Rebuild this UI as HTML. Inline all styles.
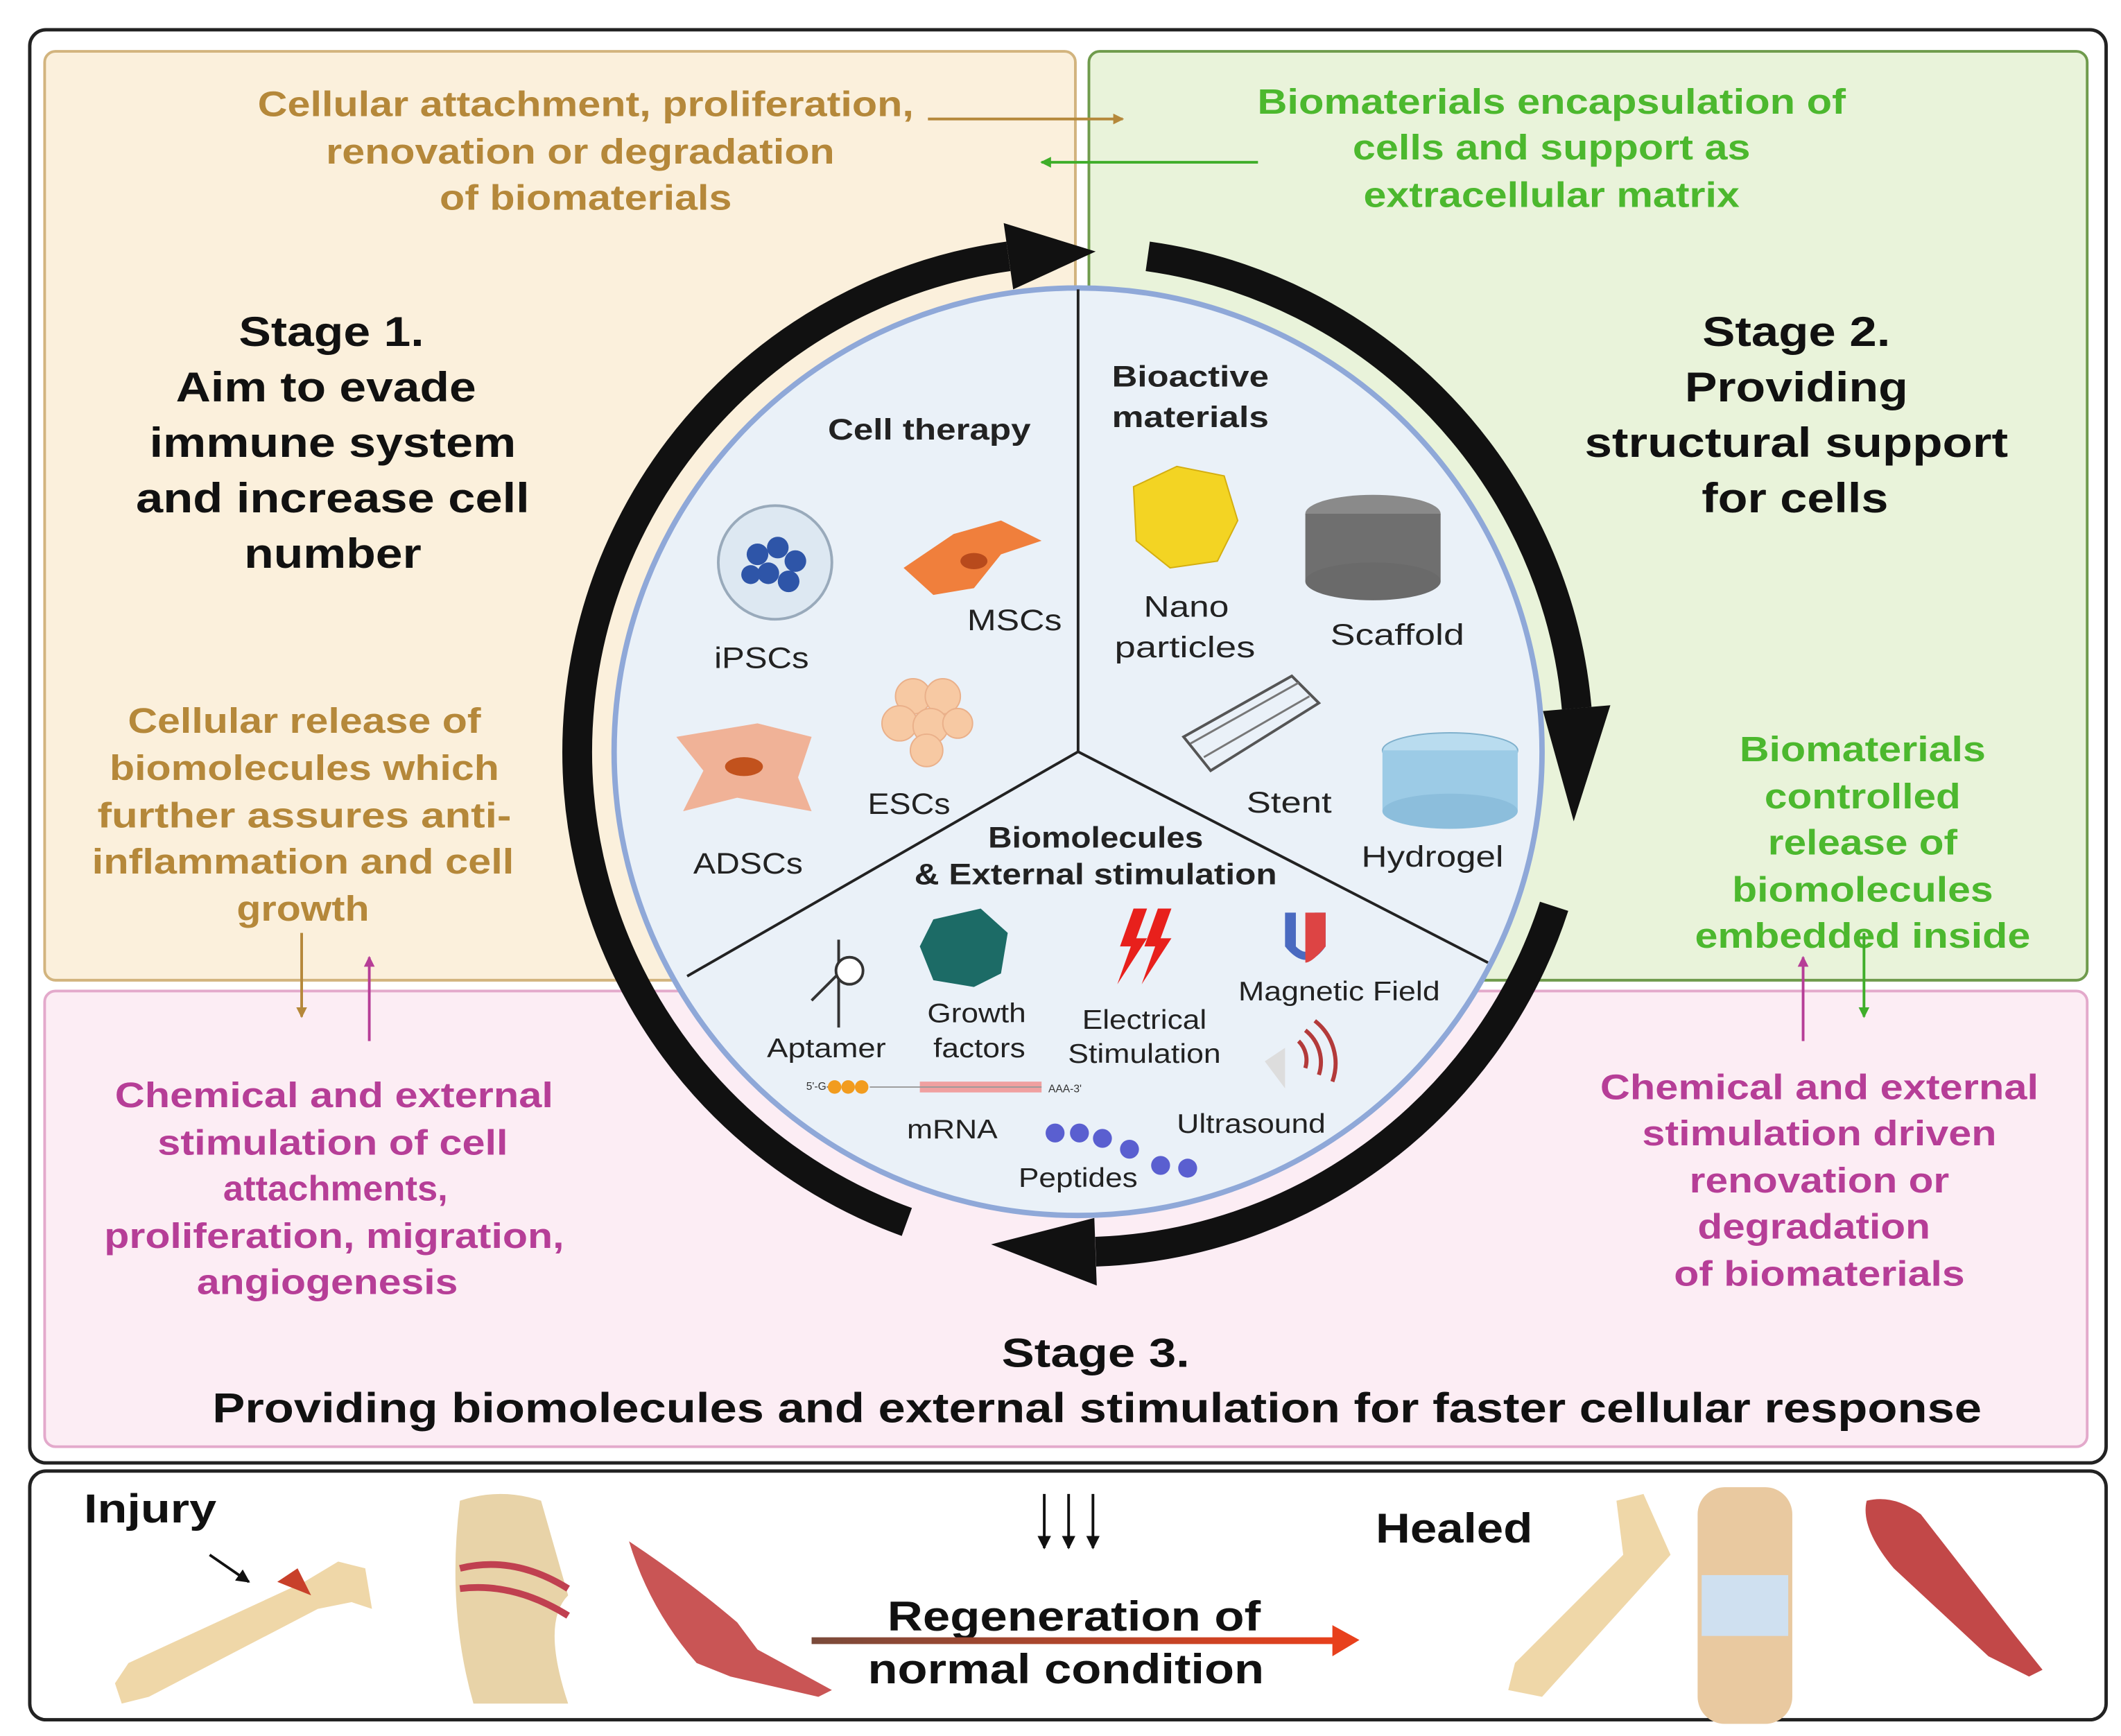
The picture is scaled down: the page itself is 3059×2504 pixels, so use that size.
<!DOCTYPE html>
<html><head><meta charset="utf-8"><style>
html,body{margin:0;padding:0;background:#fff;}
svg{display:block;}
text{font-family:"Liberation Sans",sans-serif;}
</style></head><body>
<svg width="3059" height="2504" viewBox="0 0 1568 1284" preserveAspectRatio="none" xmlns="http://www.w3.org/2000/svg">
<defs>
<marker id="ab" markerWidth="8" markerHeight="8" refX="7" refY="4" orient="auto" markerUnits="userSpaceOnUse"><path d="M0,0 L8,4 L0,8z" fill="#b5883a"/></marker>
<marker id="ag" markerWidth="8" markerHeight="8" refX="7" refY="4" orient="auto" markerUnits="userSpaceOnUse"><path d="M0,0 L8,4 L0,8z" fill="#3fae2a"/></marker>
<marker id="ap" markerWidth="8" markerHeight="8" refX="7" refY="4" orient="auto" markerUnits="userSpaceOnUse"><path d="M0,0 L8,4 L0,8z" fill="#b63e97"/></marker>
<marker id="ak" markerWidth="10" markerHeight="10" refX="9" refY="5" orient="auto" markerUnits="userSpaceOnUse"><path d="M0,0 L10,5 L0,10z" fill="#111"/></marker>
<linearGradient id="rg" x1="0" x2="1"><stop offset="0" stop-color="#7a4a3a"/><stop offset="1" stop-color="#e8401c"/></linearGradient>
</defs>
<rect x="0" y="0" width="1568" height="1284" fill="#fff"/>
<rect x="22" y="22" width="1535" height="1060" rx="12" fill="#fff" stroke="#222" stroke-width="2.5"/>
<rect x="33" y="38" width="762" height="687" rx="8" fill="#fbf0dc" stroke="#d2b47e" stroke-width="2"/>
<rect x="805" y="38" width="738" height="687" rx="8" fill="#e9f3da" stroke="#6f9b4c" stroke-width="2"/>
<rect x="33" y="733" width="1510" height="337" rx="8" fill="#fcedf4" stroke="#e3a9cb" stroke-width="2"/>
<rect x="22" y="1088" width="1535" height="184" rx="12" fill="#fff" stroke="#222" stroke-width="2.5"/>

<circle cx="797" cy="556" r="343" fill="#eaf1f8" stroke="#8fa8d8" stroke-width="4"/>
<line x1="797" y1="556" x2="797" y2="214" stroke="#222" stroke-width="2"/>
<line x1="797" y1="556" x2="508" y2="722" stroke="#222" stroke-width="2"/>
<line x1="797" y1="556" x2="1100" y2="712" stroke="#222" stroke-width="2"/>

<path d="M670.4,903.8 A370,370 0 0 1 745.5,189.6" fill="none" stroke="#111" stroke-width="22"/>
<path d="M749,214 L742,165 L810,186z" fill="#111"/>
<path d="M848.5,189.6 A370,370 0 0 1 1165.6,523.8" fill="none" stroke="#111" stroke-width="22"/>
<path d="M1140.7,525.9 L1190.5,521.6 L1163.4,607.5z" fill="#111"/>
<path d="M1148.9,670.3 A370,370 0 0 1 810,925.8" fill="none" stroke="#111" stroke-width="22"/>
<path d="M809,900.8 L810.8,950.8 L732.7,920.4z" fill="#111"/>

<g font-weight="bold" fill="#b5883a" font-size="26" text-anchor="middle">
<text x="433" y="86" textLength="485" lengthAdjust="spacingAndGlyphs">Cellular attachment, proliferation,</text>
<text x="429" y="121" textLength="376" lengthAdjust="spacingAndGlyphs">renovation or degradation</text>
<text x="433" y="155" textLength="216" lengthAdjust="spacingAndGlyphs">of biomaterials</text>
<text x="225" y="542" textLength="261" lengthAdjust="spacingAndGlyphs">Cellular release of</text>
<text x="225" y="577" textLength="288" lengthAdjust="spacingAndGlyphs">biomolecules which</text>
<text x="225" y="612" textLength="306" lengthAdjust="spacingAndGlyphs">further assures anti-</text>
<text x="224" y="646" textLength="312" lengthAdjust="spacingAndGlyphs">inflammation and cell</text>
<text x="224" y="681" textLength="98" lengthAdjust="spacingAndGlyphs">growth</text>
</g>
<line x1="686" y1="88" x2="830" y2="88" stroke="#b5883a" stroke-width="2" marker-end="url(#ab)"/>
<line x1="930" y1="120" x2="770" y2="120" stroke="#3fae2a" stroke-width="2" marker-end="url(#ag)"/>
<g font-weight="bold" fill="#111" font-size="31" text-anchor="middle">
<text x="245" y="256" textLength="137" lengthAdjust="spacingAndGlyphs">Stage 1.</text>
<text x="241" y="297" textLength="222" lengthAdjust="spacingAndGlyphs">Aim to evade</text>
<text x="246" y="338" textLength="271" lengthAdjust="spacingAndGlyphs">immune system</text>
<text x="246" y="379" textLength="291" lengthAdjust="spacingAndGlyphs">and increase cell</text>
<text x="246" y="420" textLength="131" lengthAdjust="spacingAndGlyphs">number</text>
<text x="1328" y="256" textLength="139" lengthAdjust="spacingAndGlyphs">Stage 2.</text>
<text x="1328" y="297" textLength="165" lengthAdjust="spacingAndGlyphs">Providing</text>
<text x="1328" y="338" textLength="313" lengthAdjust="spacingAndGlyphs">structural support</text>
<text x="1327" y="379" textLength="138" lengthAdjust="spacingAndGlyphs">for cells</text>
<text x="810" y="1011" font-size="30" textLength="139" lengthAdjust="spacingAndGlyphs">Stage 3.</text>
<text x="811" y="1052" textLength="1308" lengthAdjust="spacingAndGlyphs">Providing biomolecules and external stimulation for faster cellular response</text>
</g>
<g font-weight="bold" fill="#4cb82e" font-size="26" text-anchor="middle">
<text x="1147" y="84" textLength="435" lengthAdjust="spacingAndGlyphs">Biomaterials encapsulation of</text>
<text x="1147" y="118" textLength="294" lengthAdjust="spacingAndGlyphs">cells and support as</text>
<text x="1147" y="153" textLength="278" lengthAdjust="spacingAndGlyphs">extracellular matrix</text>
<text x="1377" y="563" textLength="182" lengthAdjust="spacingAndGlyphs">Biomaterials</text>
<text x="1377" y="598" textLength="145" lengthAdjust="spacingAndGlyphs">controlled</text>
<text x="1377" y="632" textLength="140" lengthAdjust="spacingAndGlyphs">release of</text>
<text x="1377" y="667" textLength="193" lengthAdjust="spacingAndGlyphs">biomolecules</text>
<text x="1377" y="701" textLength="248" lengthAdjust="spacingAndGlyphs">embedded inside</text>
</g>
<g font-weight="bold" fill="#b63e97" font-size="26" text-anchor="middle">
<text x="247" y="819" textLength="324" lengthAdjust="spacingAndGlyphs">Chemical and external</text>
<text x="246" y="854" textLength="259" lengthAdjust="spacingAndGlyphs">stimulation of cell</text>
<text x="248" y="888" textLength="166" lengthAdjust="spacingAndGlyphs">attachments,</text>
<text x="247" y="923" textLength="340" lengthAdjust="spacingAndGlyphs">proliferation, migration,</text>
<text x="242" y="957" textLength="193" lengthAdjust="spacingAndGlyphs">angiogenesis</text>
<text x="1345" y="813" textLength="324" lengthAdjust="spacingAndGlyphs">Chemical and external</text>
<text x="1345" y="847" textLength="262" lengthAdjust="spacingAndGlyphs">stimulation driven</text>
<text x="1345" y="882" textLength="192" lengthAdjust="spacingAndGlyphs">renovation or</text>
<text x="1341" y="916" textLength="172" lengthAdjust="spacingAndGlyphs">degradation</text>
<text x="1345" y="951" textLength="215" lengthAdjust="spacingAndGlyphs">of biomaterials</text>
</g>
<line x1="223" y1="690" x2="223" y2="752" stroke="#b5883a" stroke-width="2" marker-end="url(#ab)"/>
<line x1="273" y1="770" x2="273" y2="708" stroke="#b63e97" stroke-width="2" marker-end="url(#ap)"/>
<line x1="1333" y1="770" x2="1333" y2="708" stroke="#b63e97" stroke-width="2" marker-end="url(#ap)"/>
<line x1="1378" y1="690" x2="1378" y2="752" stroke="#3fae2a" stroke-width="2" marker-end="url(#ag)"/>

<g font-size="22" fill="#222" text-anchor="middle">
<text x="687" y="325" font-weight="bold" textLength="150" lengthAdjust="spacingAndGlyphs">Cell therapy</text>
<text x="880" y="286" font-weight="bold" textLength="116" lengthAdjust="spacingAndGlyphs">Bioactive</text>
<text x="880" y="316" font-weight="bold" textLength="116" lengthAdjust="spacingAndGlyphs">materials</text>
<text x="810" y="627" font-weight="bold" textLength="159" lengthAdjust="spacingAndGlyphs">Biomolecules</text>
<text x="810" y="654" font-weight="bold" textLength="268" lengthAdjust="spacingAndGlyphs">&amp; External  stimulation</text>
<text x="563" y="494" textLength="70" lengthAdjust="spacingAndGlyphs">iPSCs</text>
<text x="750" y="466" textLength="70" lengthAdjust="spacingAndGlyphs">MSCs</text>
<text x="672" y="602" textLength="61" lengthAdjust="spacingAndGlyphs">ESCs</text>
<text x="553" y="646" textLength="81" lengthAdjust="spacingAndGlyphs">ADSCs</text>
<text x="877" y="456" textLength="63" lengthAdjust="spacingAndGlyphs">Nano</text>
<text x="876" y="486" textLength="104" lengthAdjust="spacingAndGlyphs">particles</text>
<text x="1033" y="477" textLength="99" lengthAdjust="spacingAndGlyphs">Scaffold</text>
<text x="953" y="601" textLength="63" lengthAdjust="spacingAndGlyphs">Stent</text>
<text x="1059" y="641" textLength="105" lengthAdjust="spacingAndGlyphs">Hydrogel</text>
<text x="611" y="782" font-size="20" textLength="88" lengthAdjust="spacingAndGlyphs">Aptamer</text>
<text x="722" y="756" font-size="20" textLength="73" lengthAdjust="spacingAndGlyphs">Growth</text>
<text x="724" y="782" font-size="20" textLength="68" lengthAdjust="spacingAndGlyphs">factors</text>
<text x="846" y="761" font-size="20" textLength="92" lengthAdjust="spacingAndGlyphs">Electrical</text>
<text x="846" y="786" font-size="20" textLength="113" lengthAdjust="spacingAndGlyphs">Stimulation</text>
<text x="990" y="740" font-size="20" textLength="149" lengthAdjust="spacingAndGlyphs">Magnetic Field</text>
<text x="704" y="842" font-size="20" textLength="67" lengthAdjust="spacingAndGlyphs">mRNA</text>
<text x="925" y="838" font-size="20" textLength="110" lengthAdjust="spacingAndGlyphs">Ultrasound</text>
<text x="797" y="878" font-size="20" textLength="88" lengthAdjust="spacingAndGlyphs">Peptides</text>
</g>
<circle cx="573" cy="416" r="42" fill="#dde8f2" stroke="#9ab" stroke-width="2"/>
<g fill="#2e55a8"><circle cx="560" cy="410" r="8"/><circle cx="575" cy="405" r="8"/><circle cx="588" cy="415" r="8"/><circle cx="568" cy="424" r="8"/><circle cx="583" cy="430" r="8"/><circle cx="555" cy="425" r="7"/></g>
<path d="M668,420 L705,395 L740,385 L770,400 L740,410 L720,435 L690,440z" fill="#f07f3c"/>
<ellipse cx="720" cy="415" rx="10" ry="6" fill="#b84a1c"/>
<g fill="#f7c9a3" stroke="#eab08a"><circle cx="675" cy="515" r="13"/><circle cx="697" cy="515" r="13"/><circle cx="665" cy="535" r="13"/><circle cx="688" cy="537" r="13"/><circle cx="708" cy="535" r="11"/><circle cx="685" cy="555" r="12"/></g>
<path d="M500,545 L560,535 L600,545 L590,575 L600,600 L545,590 L505,600 L520,570z" fill="#f1a37e" opacity="0.8"/>
<ellipse cx="550" cy="567" rx="14" ry="7" fill="#c2521d"/>
<path d="M838,360 L870,345 L905,352 L915,385 L900,415 L865,420 L840,400z" fill="#f3d423" stroke="#d4ae10"/>
<ellipse cx="1015" cy="380" rx="50" ry="14" fill="#8a8a8a"/>
<rect x="965" y="380" width="100" height="50" fill="#6f6f6f"/>
<ellipse cx="1015" cy="430" rx="50" ry="14" fill="#6a6a6a"/>
<path d="M875,545 L955,500 L975,520 L895,570z" fill="none" stroke="#555" stroke-width="2"/>
<path d="M880,550 L960,505 M890,560 L968,515" stroke="#777" stroke-width="1.5"/>
<ellipse cx="1072" cy="555" rx="50" ry="13" fill="#b9dcef" stroke="#7fb0cc"/>
<rect x="1022" y="555" width="100" height="45" fill="#9ccbe6"/>
<ellipse cx="1072" cy="600" rx="50" ry="13" fill="#8cbedc"/>
<path d="M620,695 L620,760 M620,720 L600,740" stroke="#333" stroke-width="2" fill="none"/>
<circle cx="628" cy="718" r="10" fill="#fff" stroke="#333" stroke-width="2"/>
<path d="M690,680 L725,672 L745,690 L740,720 L720,730 L690,725 L680,700z" fill="#1c6b66"/>
<g fill="#e8201c"><path d="M838,672 L828,700 L836,700 L826,728 L848,694 L840,694 L848,672z"/><path d="M856,672 L846,700 L854,700 L844,728 L866,694 L858,694 L866,672z"/></g>
<path d="M950,675 L950,700 Q966,720 980,700 L980,675 L972,675 L972,700 Q966,708 958,700 L958,675z" fill="#4a6ac0"/>
<path d="M965,675 L980,675 L980,700 Q970,712 965,712 Z" fill="#d44"/>
<g fill="none" stroke="#b33a3a" stroke-width="3"><path d="M960,770 A20,20 0 0 1 965,790"/><path d="M965,762 A30,30 0 0 1 975,795"/><path d="M972,755 A40,40 0 0 1 985,800"/></g>
<path d="M935,785 L950,775 L950,805z" fill="#ddd"/>
<text x="596" y="806" font-size="8" fill="#333">5'-G-</text>
<g fill="#f29c1f"><circle cx="617" cy="804" r="5"/><circle cx="627" cy="804" r="5"/><circle cx="637" cy="804" r="5"/></g>
<rect x="680" y="800" width="90" height="8" fill="#f0a0a0"/>
<line x1="643" y1="804" x2="770" y2="804" stroke="#999" stroke-width="1"/>
<text x="775" y="808" font-size="8" fill="#333">AAA-3'</text>
<g fill="#5a5fd0"><circle cx="780" cy="838" r="7"/><circle cx="798" cy="838" r="7"/><circle cx="815" cy="842" r="7"/><circle cx="835" cy="850" r="7"/><circle cx="858" cy="862" r="7"/><circle cx="878" cy="864" r="7"/></g>

<g font-weight="bold" fill="#111" text-anchor="middle">
<text x="111" y="1126" font-size="30" textLength="98" lengthAdjust="spacingAndGlyphs">Injury</text>
<text x="1075" y="1141" font-size="31" textLength="116" lengthAdjust="spacingAndGlyphs">Healed</text>
<text x="794" y="1206" font-size="31" textLength="276" lengthAdjust="spacingAndGlyphs">Regeneration of</text>
<text x="788" y="1245" font-size="31" textLength="293" lengthAdjust="spacingAndGlyphs">normal condition</text>
</g>
<line x1="155" y1="1150" x2="184" y2="1170" stroke="#111" stroke-width="2" marker-end="url(#ak)"/>
<line x1="772" y1="1105" x2="772" y2="1145" stroke="#111" stroke-width="2" marker-end="url(#ak)"/>
<line x1="790" y1="1105" x2="790" y2="1145" stroke="#111" stroke-width="2" marker-end="url(#ak)"/>
<line x1="808" y1="1105" x2="808" y2="1145" stroke="#111" stroke-width="2" marker-end="url(#ak)"/>
<rect x="600" y="1211" width="390" height="5" fill="url(#rg)"/>
<path d="M985,1202 L1005,1213 L985,1225z" fill="#e8401c"/>
<path d="M85,1245 L95,1230 L225,1170 L250,1155 L270,1160 L275,1190 L260,1185 L235,1190 L110,1255 L90,1260z" fill="#efd7a8"/>
<path d="M205,1170 L220,1160 L230,1180z" fill="#c8402a"/>
<path d="M340,1110 Q370,1100 400,1110 L420,1180 Q400,1200 420,1260 L350,1260 Q330,1190 340,1110z" fill="#e8d3a8"/>
<path d="M340,1160 Q380,1150 420,1175 M340,1175 Q380,1170 420,1195" stroke="#c04050" stroke-width="5" fill="none"/>
<path d="M465,1140 Q510,1170 545,1200 L560,1220 L615,1250 L605,1255 L540,1240 L515,1230 Q480,1190 465,1140z" fill="#c95555"/>
<path d="M1195,1110 L1215,1105 L1235,1150 L1140,1255 L1115,1250 L1120,1230 L1200,1150z" fill="#efd7a8"/>
<rect x="1255" y="1100" width="70" height="175" rx="20" fill="#e9c9a0"/>
<rect x="1258" y="1165" width="64" height="45" fill="#cfe0f0"/>
<path d="M1380,1110 Q1400,1105 1420,1120 L1490,1210 L1510,1235 L1500,1240 L1470,1225 L1400,1160 Q1375,1130 1380,1110z" fill="#c24848"/>
</svg>
</body></html>
